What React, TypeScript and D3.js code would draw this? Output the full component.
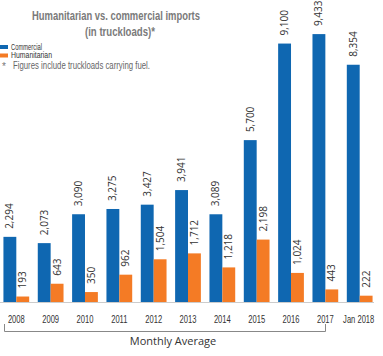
import React from "react";
import * as d3 from "d3";

const categories = ["2008", "2009", "2010", "2011", "2012", "2013", "2014", "2015", "2016", "2017", "Jan 2018"];
const commercial = [2294, 2073, 3090, 3275, 3427, 3941, 3089, 5700, 9100, 9433, 8354];
const humanitarian = [193, 643, 350, 962, 1504, 1712, 1218, 2198, 1024, 443, 222];
const seriesNames = ["Commercial", "Humanitarian"];
const colors = ["#0f67b1", "#f47b25"];

const W = 383;
const H = 356;

export default function App() {
  const x = d3.scaleBand<string>().domain(categories).range([0, 376]).paddingInner(0.25).paddingOuter(0.1);
  const x1 = d3.scaleBand<string>().domain(seriesNames).range([0, x.bandwidth()]).padding(0);
  const y = d3.scaleLinear().domain([0, 10000]).range([302, 18]);
  const fmt = d3.format(",");
  const cond = "'Liberation Sans Narrow', 'Arial Narrow', sans-serif";
  const body = "'Open Sans', sans-serif";

  const series = [commercial, humanitarian];

  return (
    <svg width={W} height={H} style={{ position: "absolute", left: 0, top: 0, background: "#fff" }}>
      {/* title */}
      <text x={116} y={20} textAnchor="middle" fontFamily={cond} fontWeight="bold" fontSize={13.5} fill="#7a7a7a" textLength={168} lengthAdjust="spacingAndGlyphs">
        Humanitarian vs. commercial imports
      </text>
      <text x={120} y={36} textAnchor="middle" fontFamily={cond} fontWeight="bold" fontSize={13.5} fill="#7a7a7a" textLength={70} lengthAdjust="spacingAndGlyphs">
        (in truckloads)*
      </text>
      {/* legend */}
      {seriesNames.map((n, i) => (
        <g key={n}>
          <rect x={0} y={45 + i * 8.5} width={8} height={4} fill={colors[i]} />
          <text x={11} y={49.5 + i * 8.5} fontFamily={cond} fontSize={9} fill="#333" textLength={n === "Commercial" ? 31 : 41} lengthAdjust="spacingAndGlyphs">
            {n}
          </text>
        </g>
      ))}
      <text x={2} y={70} fontFamily={cond} fontSize={10} fill="#777">*</text>
      <text x={13} y={69} fontFamily={cond} fontSize={10.5} fill="#666" textLength={137} lengthAdjust="spacingAndGlyphs">
        Figures include truckloads carrying fuel.
      </text>

      {/* bars */}
      {categories.map((c, ci) => (
        <g key={c} transform={`translate(${x(c)},0)`}>
          {series.map((s, si) => {
            const bx = x1(seriesNames[si])!;
            const by = y(s[ci]);
            const cx = bx + x1.bandwidth() / 2;
            return (
              <g key={si}>
                <rect x={bx} y={by} width={x1.bandwidth()} height={y(0) - by} fill={colors[si]} />
                <text
                  transform={`translate(${cx + 3.5},${by - 8}) rotate(-90)`}
                  fontFamily={body}
                  fontSize={10}
                  fill="#333"
                >
                  {fmt(s[ci])}
                </text>
              </g>
            );
          })}
        </g>
      ))}

      {/* baseline */}
      <line x1={0} x2={374} y1={302.5} y2={302.5} stroke="#ccc" strokeWidth={1} />

      {/* x labels */}
      {categories.map((c) => (
        <text
          key={c}
          transform={`translate(${x(c)! + x.bandwidth() / 2 - (c.length > 4 ? 1 : 0)},323) scale(0.66,1)`}
          textAnchor="middle"
          fontFamily="'Liberation Sans', Arial, sans-serif"
          fontSize={11.5}
          fill="#333"
        >
          {c}
        </text>
      ))}

      {/* bracket */}
      <path d="M4.5,324 V331.5 H325.5 V324" fill="none" stroke="#888" strokeWidth={1} />
      <text x={173} y={345} textAnchor="middle" fontFamily={body} fontSize={11} fill="#333">
        Monthly Average
      </text>
    </svg>
  );
}
